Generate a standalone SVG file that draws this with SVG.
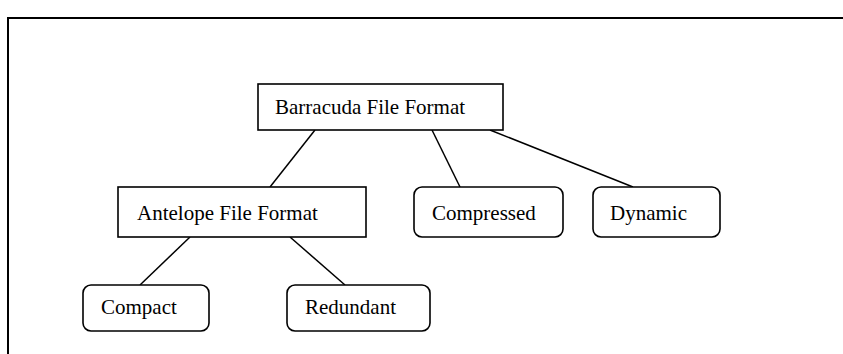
<svg xmlns="http://www.w3.org/2000/svg" width="843" height="354" viewBox="0 0 843 354">
<style>
.box{fill:#fff;stroke:#000;stroke-width:1.6}
.t{font-family:"Liberation Serif","Times New Roman",serif;font-size:21px;fill:#000}
.c{stroke:#000;stroke-width:1.5;fill:none}
.frame{stroke:#000;stroke-width:2;fill:none}
</style>
<rect width="843" height="354" fill="#fff"/>
<path class="frame" d="M8,354 V18 H843"/>
<g id="connectors">
<line class="c" x1="315" y1="130" x2="270" y2="187"/>
<line class="c" x1="432" y1="130" x2="460" y2="187"/>
<line class="c" x1="490" y1="130" x2="633" y2="187"/>
<line class="c" x1="190" y1="237" x2="140" y2="285"/>
<line class="c" x1="290" y1="237" x2="345" y2="285"/>
</g>
<g id="barracuda">
<rect class="box" x="258" y="84" width="245" height="46"/>
<text class="t" x="275" y="114">Barracuda File Format</text>
</g>
<g id="antelope">
<rect class="box" x="118" y="187" width="248" height="50"/>
<text class="t" x="137" y="220">Antelope File Format</text>
</g>
<g id="compressed">
<rect class="box" x="414" y="187" width="149" height="50" rx="8"/>
<text class="t" x="432" y="220">Compressed</text>
</g>
<g id="dynamic">
<rect class="box" x="593" y="187" width="127" height="50" rx="8"/>
<text class="t" x="610" y="220">Dynamic</text>
</g>
<g id="compact">
<rect class="box" x="83" y="285" width="126" height="46" rx="8"/>
<text class="t" x="101" y="314">Compact</text>
</g>
<g id="redundant">
<rect class="box" x="287" y="285" width="143" height="46" rx="8"/>
<text class="t" x="305" y="314">Redundant</text>
</g>
</svg>
